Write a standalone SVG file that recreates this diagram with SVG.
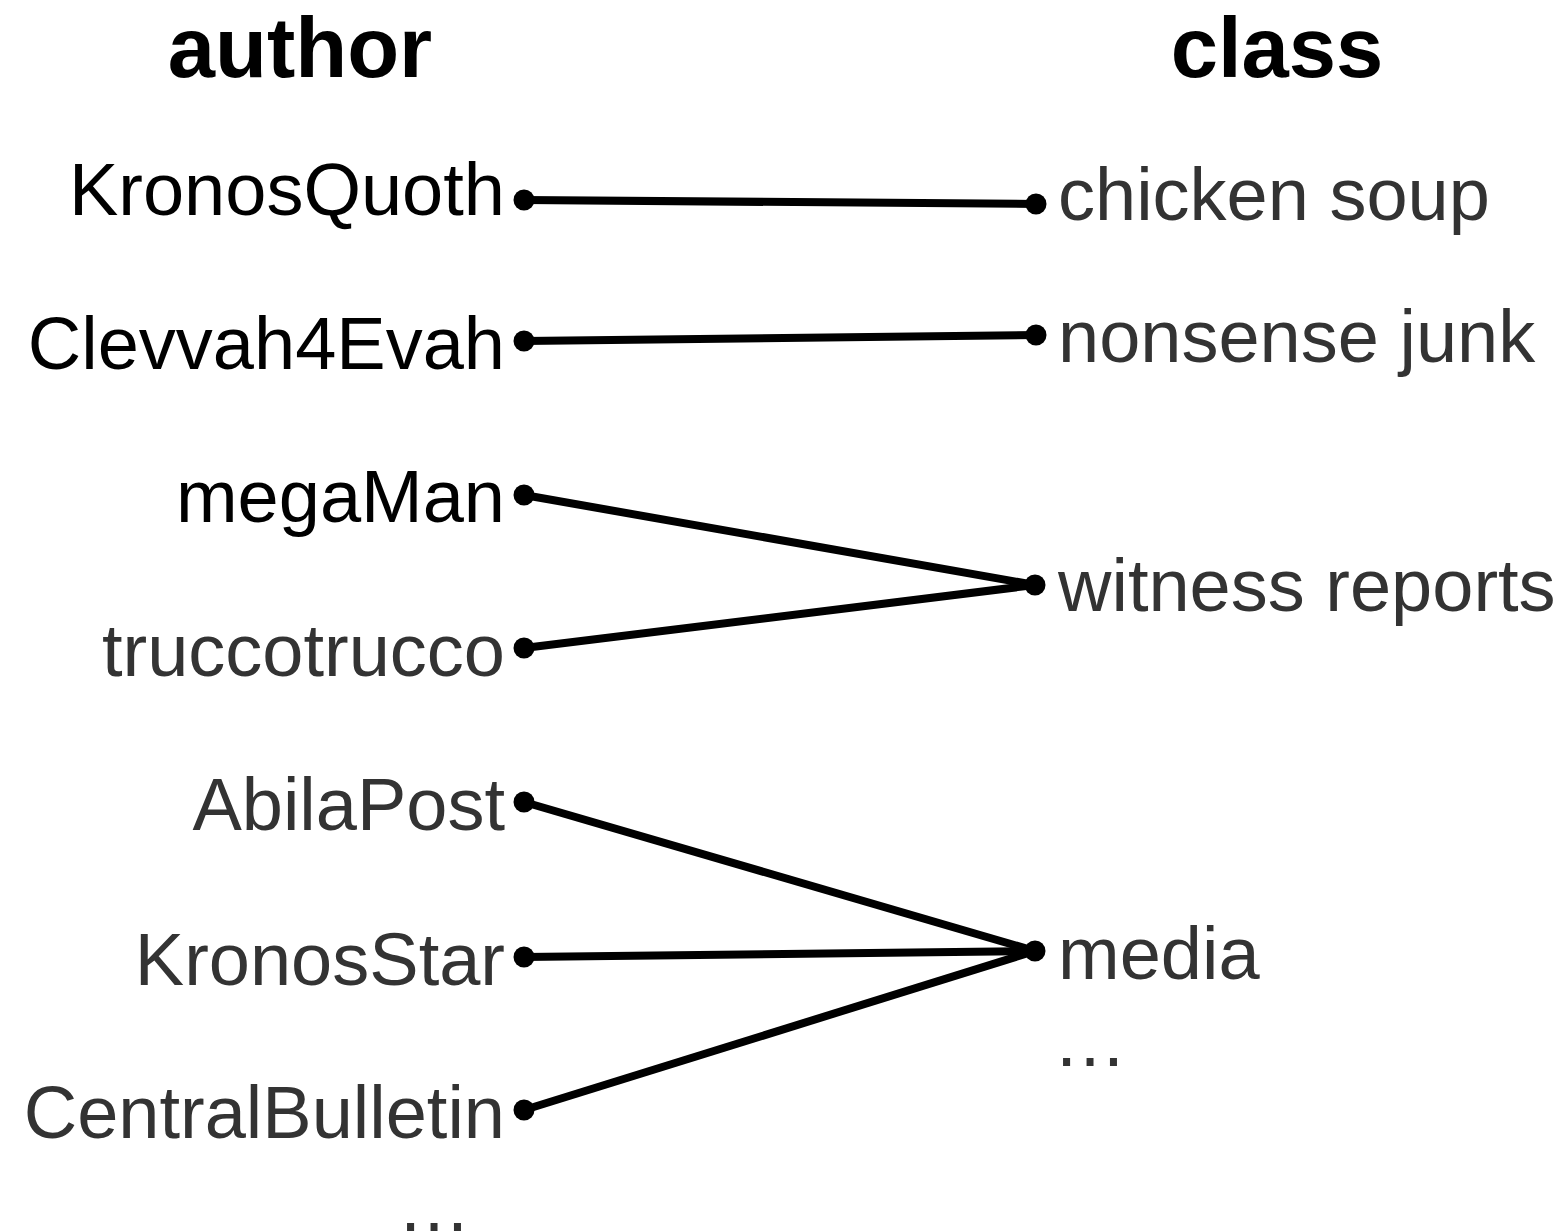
<svg xmlns="http://www.w3.org/2000/svg" width="1567" height="1232" viewBox="0 0 1567 1232">
  <style>
    text { font-family: "Liberation Sans", Arial, sans-serif; font-size: 74px; }
    .head { font-size: 85px; font-weight: bold; fill: #000; text-anchor: middle; }
    .left { text-anchor: end; }
    .right { text-anchor: start; fill: #333; }
    .dark { fill: #000; }
    .grey { fill: #333; }
    .dot { fill: #000; }
    .edge { stroke: #000; stroke-width: 8; fill: none; }
  </style>
  <rect width="1567" height="1232" fill="#fff"/>

  <!-- column headers -->
  <text class="head" x="300" y="77">author</text>
  <text class="head" x="1277" y="77">class</text>

  <!-- author to class links -->
  <g id="connectors">
    <line class="edge" x1="524" y1="200" x2="1036" y2="204"/>
    <line class="edge" x1="524" y1="341" x2="1036" y2="335"/>
    <line class="edge" x1="524" y1="495" x2="1035" y2="585"/>
    <line class="edge" x1="524" y1="648" x2="1035" y2="585"/>
    <line class="edge" x1="524" y1="802" x2="1035" y2="951"/>
    <line class="edge" x1="524" y1="957" x2="1035" y2="951"/>
    <line class="edge" x1="524" y1="1110" x2="1035" y2="951"/>
  </g>

  <!-- authors -->
  <g id="author-KronosQuoth">
    <text class="left dark" x="505" y="215">KronosQuoth</text>
    <circle class="dot" cx="524" cy="200" r="10.5"/>
  </g>
  <g id="author-Clevvah4Evah">
    <text class="left dark" x="505" y="369">Clevvah4Evah</text>
    <circle class="dot" cx="524" cy="341" r="10.5"/>
  </g>
  <g id="author-megaMan">
    <text class="left dark" x="505" y="522">megaMan</text>
    <circle class="dot" cx="524" cy="495" r="10.5"/>
  </g>
  <g id="author-truccotrucco">
    <text class="left grey" x="505" y="676">truccotrucco</text>
    <circle class="dot" cx="524" cy="648" r="10.5"/>
  </g>
  <g id="author-AbilaPost">
    <text class="left grey" x="505" y="830">AbilaPost</text>
    <circle class="dot" cx="524" cy="802" r="10.5"/>
  </g>
  <g id="author-KronosStar">
    <text class="left grey" x="505" y="985">KronosStar</text>
    <circle class="dot" cx="524" cy="957" r="10.5"/>
  </g>
  <g id="author-CentralBulletin">
    <text class="left grey" x="505" y="1138">CentralBulletin</text>
    <circle class="dot" cx="524" cy="1110" r="10.5"/>
  </g>
  <g id="author-more">
    <text class="grey" x="397" y="1231">…</text>
  </g>

  <!-- classes -->
  <g id="class-chicken-soup">
    <circle class="dot" cx="1036" cy="204" r="10.5"/>
    <text class="right" x="1058" y="220">chicken soup</text>
  </g>
  <g id="class-nonsense-junk">
    <circle class="dot" cx="1036" cy="335" r="10.5"/>
    <text class="right" x="1058" y="362">nonsense junk</text>
  </g>
  <g id="class-witness-reports">
    <circle class="dot" cx="1035" cy="585" r="10.5"/>
    <text class="right" x="1058" y="611">witness reports</text>
  </g>
  <g id="class-media">
    <circle class="dot" cx="1035" cy="951" r="10.5"/>
    <text class="right" x="1058" y="979">media</text>
  </g>
  <g id="class-more">
    <text class="right" x="1053" y="1066">…</text>
  </g>
</svg>
